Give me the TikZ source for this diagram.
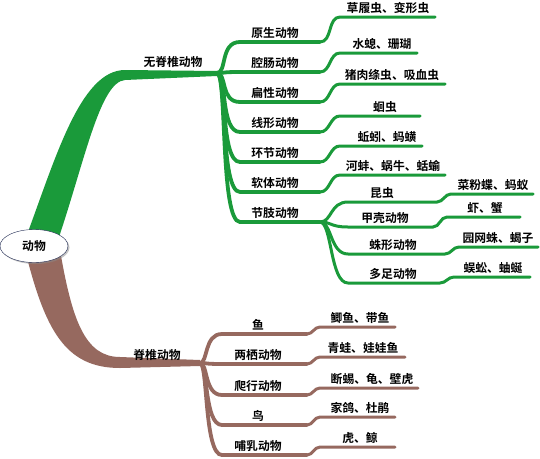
\documentclass[tikz,border=0pt]{standalone}
\usepackage{fontspec}
\setmainfont{Noto Sans CJK SC}[BoldFont={Noto Sans CJK SC Bold}]
\usetikzlibrary{calc,shapes.geometric,shadows}
\definecolor{Leaf}{HTML}{1A9A3A}
\definecolor{Bark}{HTML}{96695F}
\definecolor{Rim}{HTML}{1E2850}

\begin{document}
\begin{tikzpicture}[x=1pt,y=-1pt,font=\bfseries\fontsize{11.8}{13}\selectfont,
    twig/.style={line width=3.8pt,line cap=round},
    sprig/.style={line width=3pt,line cap=round},
    tag/.style={anchor=base,inner sep=0pt}]
  \useasboundingbox (0,0) rectangle (540,458);
  % trunks
  \fill[Leaf] (25,240) .. controls (55,160) and (80,70) .. (125,70) -- (217,71)
    -- (217,76) -- (125,80) .. controls (100,82) and (85,160) .. (58,240) -- cycle;
  \fill[Bark] (25,250) .. controls (45,330) and (65,368) .. (120,368) -- (200,366)
    -- (200,360) -- (120,357) .. controls (85,357) and (72,320) .. (60,250) -- cycle;
  \node[ellipse,draw=Rim,fill=white,minimum width=68pt,minimum height=33pt,
    drop shadow={shadow xshift=1.5pt,shadow yshift=-1.5pt,fill=black!45}] (root) at (34,246) {动物};
  \node[tag] (inv) at (173,66.6) {无脊椎动物};
  \node[tag] (ver) at (157,359.6) {脊椎动物};
  % invertebrates
  \coordinate (gsplit) at (217,73);
  \foreach \i/\y/\lab in {1/42/原生动物,2/72/腔肠动物,3/102/扁性动物,4/132/线形动物,5/162/环节动物,6/192/软体动物,7/222/节肢动物}{
    \coordinate (g\i) at (240,\y);
    \coordinate (g\i e) at (320,\y);
    \draw[Leaf,twig] (gsplit) .. controls +(10,0) and +(-20,0) .. (g\i) -- (g\i e);
    \node[tag] (gt\i) at (275,\y-5) {\lab};
  }
  \foreach \i/\y/\ex/\tx/\txt in {1/17/435/388/草履虫、变形虫,2/53/417/382/水螅、珊瑚,3/84/445/392/猪肉绦虫、吸血虫,4/116/420/385/蛔虫,5/146/422/387/蚯蚓、蚂蟥,6/175/445/393/河蚌、蜗牛、蛞蝓}{
    \coordinate (gl\i) at (340,\y);
    \coordinate (gl\i e) at (\ex,\y);
    \draw[Leaf,sprig] (g\i e) to[out=0,in=180] (gl\i) -- (gl\i e);
    \node[tag] (glt\i) at (\tx,\y-5) {\txt};
  }
  % arthropods
  \foreach \i/\y/\lx/\ly/\ex/\ax/\bx/\lab/\txt in {1/202/437/194/533/382/493/昆虫/菜粉蝶、蚂蚁,2/227/433/217/520/385/485/甲壳动物/虾、蟹,3/254/445/247/538/393/498/蛛形动物/园网蛛、蝎子,4/283/440/277/530/393/493/多足动物/蜈蚣、蚰蜒}{
    \coordinate (a\i) at (348,\y);
    \coordinate (a\i e) at (\lx,\y);
    \coordinate (al\i) at (\lx+14,\ly);
    \coordinate (al\i e) at (\ex,\ly);
    \draw[Leaf,sprig] (g7e) .. controls +(12,0) and +(-18,0) .. (a\i) -- (a\i e)
      to[out=0,in=180] (al\i) -- (al\i e);
    \node[tag] (at\i) at (\ax,\y-5) {\lab};
    \node[tag] (alt\i) at (\bx,\ly-5) {\txt};
  }
  % vertebrates
  \coordinate (vsplit) at (200,363);
  \foreach \i/\y/\lab in {1/334/鱼,2/364/两栖动物,3/395/爬行动物,4/425/鸟,5/455/哺乳动物}{
    \coordinate (v\i) at (222,\y);
    \coordinate (v\i e) at (307,\y);
    \draw[Bark,twig] (vsplit) .. controls +(8,0) and +(-18,0) .. (v\i) -- (v\i e);
    \node[tag] (vt\i) at (258,\y-5) {\lab};
  }
  \foreach \i/\y/\ex/\tx/\txt in {1/327/395/360/鲫鱼、带鱼,2/357/405/363/青蛙、娃娃鱼,3/388/418/372/断蜴、龟、壁虎,4/417/395/360/家鸽、杜鹃,5/447/395/360/虎、鲸}{
    \coordinate (vl\i) at (320,\y);
    \coordinate (vl\i e) at (\ex,\y);
    \draw[Bark,sprig] (v\i e) to[out=0,in=180] (vl\i) -- (vl\i e);
    \node[tag] (vlt\i) at (\tx,\y-5) {\txt};
  }
\end{tikzpicture}
\end{document}
